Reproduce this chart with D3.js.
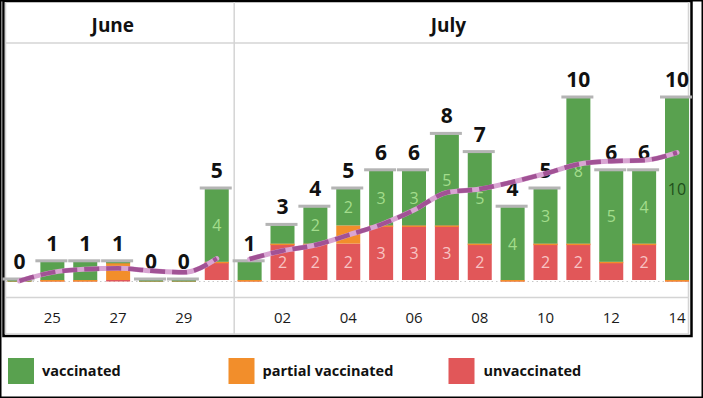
<!DOCTYPE html>
<html>
<head>
<meta charset="utf-8">
<script src="https://cdn.jsdelivr.net/npm/d3@7"></script>
<style>
  body { margin: 0; background: #fff; }
  svg { display: block; font-family: "Open Sans", "Noto Sans", sans-serif; }
</style>
</head>
<body>
<svg id="chart" width="703" height="398"></svg>
<script>
// days shown, June 24 .. July 14
var days = ["24","25","26","27","28","29","30","01","02","03","04","05","06","07","08","09","10","11","12","13","14"];
var months = ["June","June","June","June","June","June","June",
  "July","July","July","July","July","July","July","July","July","July","July","July","July","July"];
var tickDays = ["25","27","29","02","04","06","08","10","12","14"];
var monthNames = ["June", "July"];

var vaccinated   = [0,1,1,0,0,0,4,1,1,2,2,3,3,5,5,4,3,8,5,4,10];
var partial      = [0,0,0,1,0,0,0,0,0,0,1,0,0,0,0,0,0,0,0,0,0];
var unvaccinated = [0,0,0,0,0,0,1,0,2,2,2,3,3,3,2,0,2,2,1,2,0];
// rolling average line
var average = [-0.05,0.42,0.59,0.64,0.51,0.42,1.18, 1.15,1.61,1.92,2.47,3.05,3.84,4.81,5.0,5.39,5.85,6.36,6.53,6.58,7.0];

var legendNames = ["vaccinated", "partial vaccinated", "unvaccinated"];
var colors = {vaccinated: "#59a14f", partial: "#f28e2b", unvaccinated: "#e15759"};
var labelColors = {vaccinated: "#a3dd8c", unvaccinated: "#f8c4c4"};

var svg = d3.select("#chart");

var idx = d3.range(days.length);
var x = d3.scalePoint().domain(idx).range([19.5, 677]);
var barW = 24;
var y = d3.scaleLinear().domain([0, 10]).range([280, 98]);

// frame
var frameTop = 2, frameBottom = 334, headerY = 43, axisY = 297.5;
var paneLeft = 5.5, paneRight = 688.5;
var divX = (x(6) + x(7)) / 2 + 1;

svg.append("rect").attr("x", 0.75).attr("y", 0.75).attr("width", 701.5).attr("height", 396.5)
  .attr("fill", "none").attr("stroke", "#000").attr("stroke-width", 1.5);
svg.append("rect").attr("x", 3.5).attr("y", 1).attr("width", 688).attr("height", 335)
  .attr("fill", "none").attr("stroke", "#000").attr("stroke-width", 2.5);

var grid = svg.append("g").attr("stroke", "#d4d4d4").attr("stroke-width", 1.5);
grid.append("line").attr("x1", paneLeft).attr("x2", paneLeft).attr("y1", frameTop).attr("y2", frameBottom);
grid.append("line").attr("x1", paneRight).attr("x2", paneRight).attr("y1", frameTop).attr("y2", frameBottom);
grid.append("line").attr("x1", paneLeft).attr("x2", paneRight).attr("y1", frameBottom).attr("y2", frameBottom);
grid.append("line").attr("x1", paneLeft).attr("x2", paneRight).attr("y1", headerY).attr("y2", headerY);
grid.append("line").attr("x1", paneLeft).attr("x2", paneRight).attr("y1", axisY).attr("y2", axisY);
grid.append("line").attr("x1", divX).attr("x2", divX).attr("y1", frameTop).attr("y2", frameBottom);

// month headers
var headerX = {June: (paneLeft + divX) / 2 - 7, July: (divX + paneRight) / 2 - 13};
svg.selectAll("text.month").data(monthNames).enter().append("text")
  .attr("class", "month")
  .attr("x", function(d) { return headerX[d]; })
  .attr("y", 32)
  .attr("text-anchor", "middle")
  .attr("font-size", 19).attr("font-weight", "bold").attr("fill", "#111")
  .text(function(d) { return d; });

// dotted baseline
svg.append("line").attr("x1", paneLeft).attr("x2", paneRight)
  .attr("y1", y(0) + 1.5).attr("y2", y(0) + 1.5)
  .attr("stroke", "#c8c8c8").attr("stroke-width", 1).attr("stroke-dasharray", "1.5,3");

// stacked bars
var stackData = idx.map(function(i) {
  return {i: i, unvaccinated: unvaccinated[i], partial: partial[i], vaccinated: vaccinated[i]};
});
var keys = ["unvaccinated", "partial", "vaccinated"];
var series = d3.stack().keys(keys)(stackData);

var bars = svg.append("g");
series.forEach(function(s) {
  bars.selectAll("rect." + s.key).data(s).enter().append("rect")
    .attr("class", s.key)
    .attr("x", function(d) { return x(d.data.i) - barW / 2; })
    .attr("width", barW)
    .attr("y", function(d) { return d[1] > d[0] ? y(d[1]) : y(d[0]); })
    .attr("height", function(d) { return d[1] > d[0] ? y(d[0]) - y(d[1]) : 1.5; })
    .attr("fill", colors[s.key]);
});

// segment labels
series.forEach(function(s) {
  if (!labelColors[s.key]) return;
  bars.selectAll("text." + s.key).data(s.filter(function(d) { return d[1] - d[0] >= 2; })).enter()
    .append("text")
    .attr("class", s.key)
    .attr("x", function(d) { return x(d.data.i); })
    .attr("y", function(d) { return (y(d[0]) + y(d[1])) / 2 + 6; })
    .attr("text-anchor", "middle")
    .attr("font-size", 16)
    .attr("fill", function(d) {
      return (s.key == "vaccinated" && d.data.unvaccinated + d.data.partial == 0 && d[1] >= 10) ? "#1f4f1b" : labelColors[s.key];
    })
    .text(function(d) { return d[1] - d[0]; });
});

// total caps and labels
var totals = idx.map(function(i) { return vaccinated[i] + partial[i] + unvaccinated[i]; });
svg.append("g").selectAll("rect").data(idx).enter().append("rect")
  .attr("x", function(i) { return x(i) - 17; })
  .attr("width", 32)
  .attr("y", function(i) { return y(totals[i]) - 2.5; })
  .attr("height", 3)
  .attr("fill", "#b4b4b4");

svg.append("g").selectAll("text").data(idx).enter().append("text")
  .attr("x", function(i) { return x(i); })
  .attr("y", function(i) { return y(totals[i]) - 11; })
  .attr("text-anchor", "middle")
  .attr("font-size", 21).attr("font-weight", "bold").attr("fill", "#111")
  .text(function(i) { return totals[i]; });

// rolling average line, one piece per month
var line = d3.line()
  .x(function(i) { return x(i); })
  .y(function(i) { return y(average[i]); })
  .curve(d3.curveMonotoneX);
monthNames.forEach(function(m) {
  var pts = idx.filter(function(i) { return months[i] == m; });
  svg.append("path").attr("d", line(pts))
    .attr("fill", "none").attr("stroke", "#d9a5d3").attr("stroke-width", 5).attr("stroke-linecap", "round");
  svg.append("path").attr("d", line(pts))
    .attr("fill", "none").attr("stroke", "#96438a").attr("stroke-opacity", 0.85)
    .attr("stroke-width", 4.5).attr("stroke-dasharray", "15,7");
});

// x axis labels
svg.append("g").selectAll("text").data(idx.filter(function(i) { return tickDays.indexOf(days[i]) >= 0; }))
  .enter().append("text")
  .attr("x", function(i) { return x(i); })
  .attr("y", 323)
  .attr("text-anchor", "middle")
  .attr("font-size", 15).attr("fill", "#1a1a1a")
  .text(function(i) { return days[i]; });

// legend
var legendX = [8, 228.5, 448.5];
var legend = svg.append("g").selectAll("g").data(legendNames).enter().append("g")
  .attr("transform", function(d, i) { return "translate(" + legendX[i] + ",358)"; });
legend.append("rect").attr("width", 26).attr("height", 26)
  .attr("fill", function(d, i) { return colors[keys[2 - i]]; });
legend.append("text").attr("x", function(d, i) { return i == 2 ? 35 : 34; }).attr("y", 18)
  .attr("font-size", 14.5).attr("font-weight", "bold").attr("fill", "#111")
  .text(function(d) { return d; });
</script>
</body>
</html>
